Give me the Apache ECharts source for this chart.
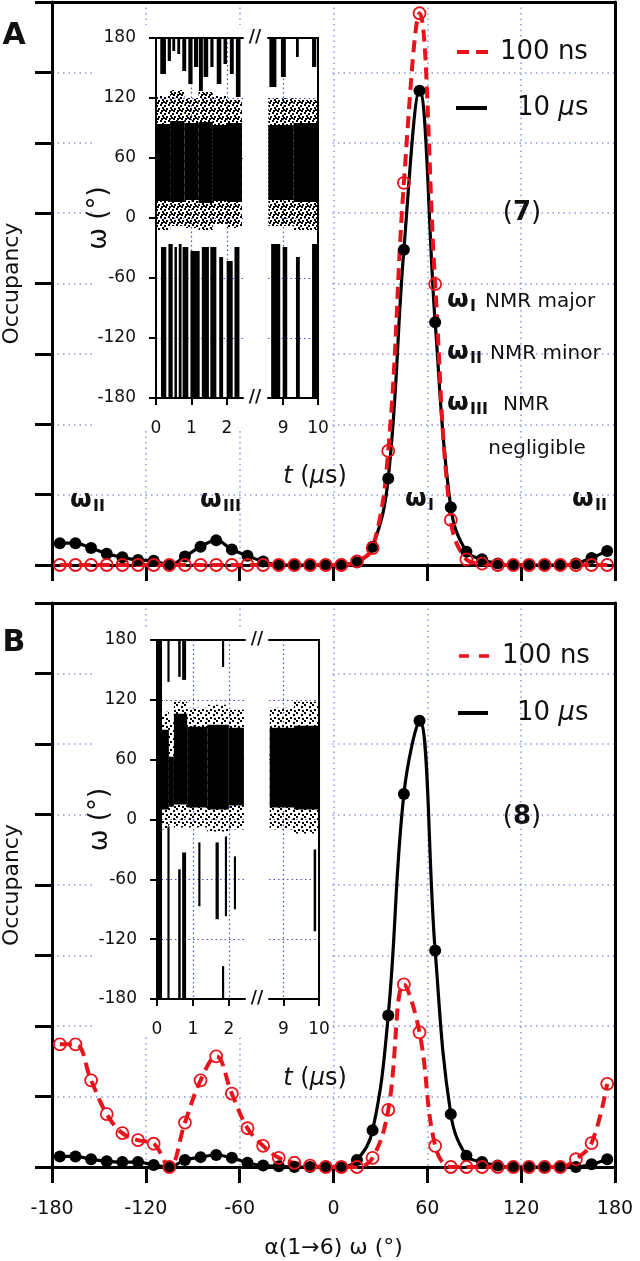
<!DOCTYPE html>
<html>
<head>
<meta charset="utf-8">
<script src="https://cdn.jsdelivr.net/npm/echarts@6.0.0/dist/echarts.min.js"></script>
<style>
html,body{margin:0;padding:0;background:#fff;}
#main{width:640px;height:1261px;}
</style>
</head>
<body>
<div id="main"></div>
<script>
// ω bins (deg), occupancy
var angles = [-175,-165,-155,-145,-135,-125,-115,-105,-95,-85,-75,-65,-55,-45,-35,-25,-15,-5,
              5,15,25,35,45,55,65,75,85,95,105,115,125,135,145,155,165,175];
var occA_10us  = [0.31,0.31,0.24,0.16,0.11,0.07,0.06,0.0,0.12,0.26,0.35,0.22,0.13,0.05,0.0,0.0,0.0,0.0,
                  0.01,0.04,0.26,1.23,4.48,6.74,3.45,0.82,0.19,0.08,0.02,0.0,0.0,0.0,0.0,0.02,0.10,0.20];
var occA_100ns = [0,0,0,0,0,0,0,0,0,0,0,0,0,0,0,0,0,0,
                  0.0,0.05,0.24,1.62,5.43,7.84,3.99,0.64,0.08,0.02,0,0,0,0,0,0,0,0];
var occB_10us  = [0.15,0.15,0.11,0.08,0.07,0.07,0.03,0.0,0.10,0.14,0.17,0.13,0.06,0.02,0.01,0.0,0.0,0.0,
                  0.0,0.10,0.52,2.15,5.29,6.33,3.07,0.75,0.16,0.07,0.02,0.0,0.0,0.0,0.0,0.0,0.04,0.11];
var occB_100ns = [1.74,1.74,1.23,0.75,0.48,0.38,0.33,0.0,0.63,1.23,1.57,1.04,0.55,0.30,0.13,0.06,0.02,0.0,
                  0.0,0.0,0.13,0.81,2.59,1.91,0.30,0.0,0.0,0.0,0,0,0,0,0,0.11,0.34,1.18];

// inset time series (t in µs, ω in deg)
// band: [t0, t1, coreLow, coreHigh, scatterLow, scatterHigh]
var bandA_left  = [[0.00,0.40,17,94,-12,122],[0.40,0.80,16,97,-8,128],[0.80,1.20,18,95,-10,120],
                   [1.20,1.60,15,96,-12,126],[1.60,2.00,17,93,-6,122],[2.00,2.42,16,95,-10,118]];
var bandA_right = [[8.58,9.30,18,93,-8,120],[9.30,10.0,16,95,-12,118]];
var bandB_left  = [[0.00,0.33,10,90,-10,108],[0.33,0.47,13,63,-5,100],[0.47,0.84,15,106,-8,118],
                   [0.84,1.40,12,93,-8,112],[1.40,2.00,10,95,-12,115],[2.00,2.42,14,92,-10,110]];
var bandB_right = [[8.62,9.30,12,92,-10,112],[9.30,10.0,10,94,-14,118]];
// jumps: [t0, t1, ωLow, ωHigh]
var jumpsA_left = [
  [0.12,0.28,144,180],[0.33,0.42,157,180],[0.46,0.54,167,180],[0.60,0.68,164,180],[0.74,0.85,147,180],
  [0.91,1.03,134,180],[1.07,1.19,151,180],[1.21,1.32,127,180],[1.34,1.47,141,180],[1.53,1.62,151,180],
  [1.71,1.84,134,180],[1.90,2.00,154,180],[2.08,2.19,144,180],[2.25,2.38,121,180],
  [0.14,0.29,-180,-29],[0.35,0.47,-180,-26],[0.52,0.59,-180,-29],[0.64,0.72,-180,-26],[0.75,0.91,-180,-29],
  [0.97,1.23,-180,-33],[1.29,1.49,-180,-29],[1.53,1.70,-180,-29],[1.78,1.89,-180,-39],[1.99,2.16,-180,-43],
  [2.21,2.35,-180,-29]
];
var jumpsA_right = [
  [8.61,8.81,131,180],[8.94,9.08,141,180],[9.37,9.45,161,180],[9.83,9.95,151,180],
  [8.66,8.92,-180,-26],[8.99,9.12,-180,-29],[9.37,9.48,-180,-39],[9.83,9.97,-180,-26]
];
var jumpsB_left = [
  [0.00,0.14,-180,180],[0.29,0.35,138,180],[0.29,0.35,-180,-7],[0.59,0.66,143,180],[0.59,0.66,-180,-50],
  [0.70,0.81,140,180],[0.70,0.81,-180,-33],[1.15,1.21,-87,-23],[1.63,1.72,-100,-23],[1.81,1.87,153,180],
  [1.81,1.87,-180,-147],[1.89,1.95,-97,-17],[2.14,2.20,-90,-37]
];
var jumpsB_right = [[9.85,9.92,-112,-30]];
var tTicksLeft = [0, 1, 2];
var tTicksRight = [9, 10];

var FONT = 'DejaVu Sans';
var RED = '#e8141b';
var GRIDC = '#8a98e6';
var INSETGRID = '#4352d2';

function pairs(vals) {
  return angles.map(function (a, i) { return [a, vals[i]]; });
}

// speckle texture for the sparse scatter around the dense band
function speckle(dots) {
  var c = document.createElement('canvas');
  c.width = 8; c.height = 8;
  var g = c.getContext('2d');
  g.fillStyle = '#000';
  dots.forEach(function (d) { g.fillRect(d[0], d[1], 2, 2); });
  return {image: c, repeat: 'repeat'};
}
var denseDots = speckle([[0,0],[4,1],[2,3],[6,4],[1,6],[5,6],[3,5]]);
var sparseDots = speckle([[0,0],[5,2],[2,5],[6,6]]);

function boxSeries(data, xi, yi, lo, hi, fill) {
  return {
    type: 'custom', xAxisIndex: xi, yAxisIndex: yi, z: 4, silent: true, data: data,
    renderItem: function (params, api) {
      var p1 = api.coord([api.value(0), api.value(hi)]);
      var p2 = api.coord([api.value(1), api.value(lo)]);
      return {type: 'rect', shape: {x: p1[0], y: p1[1], width: Math.max(p2[0] - p1[0], 1.5), height: p2[1] - p1[1]},
              style: {fill: fill}};
    }
  };
}

function mainX(grid, labels) {
  var ax = {
    gridIndex: grid, type: 'value', min: -180, max: 180, interval: 60, position: 'bottom',
    axisLine: {show: true, onZero: false, lineStyle: {color: '#000', width: 3}},
    axisTick: {show: true, length: 16, lineStyle: {color: '#000', width: 3}},
    axisLabel: {show: labels, fontSize: 19, fontFamily: FONT, color: '#111', margin: 33},
    splitLine: {show: true, lineStyle: {color: GRIDC, type: [1.5, 4], width: 1.5}}
  };
  if (labels) {
    ax.name = 'α(1→6) ω (°)';
    ax.nameLocation = 'middle';
    ax.nameGap = 70;
    ax.nameMoveOverlap = false;
    ax.nameTextStyle = {fontSize: 22, fontFamily: FONT, color: '#111'};
  }
  return ax;
}
function frameX(grid, pos, w, z) {
  return {gridIndex: grid, type: 'value', position: pos, min: 0, max: 1, z: z || 0,
    axisLine: {show: true, onZero: false, lineStyle: {color: '#000', width: w}},
    axisTick: {show: false}, axisLabel: {show: false}, splitLine: {show: false}};
}
function mainY(grid) {
  return {gridIndex: grid, type: 'value', min: 0, max: 8, interval: 1, position: 'left',
    axisLine: {show: true, onZero: false, lineStyle: {color: '#000', width: 3}},
    axisTick: {show: true, length: 17, lineStyle: {color: '#000', width: 3}},
    axisLabel: {show: false},
    splitLine: {show: true, lineStyle: {color: GRIDC, type: [1.5, 4], width: 1.5}},
    name: 'Occupancy', nameLocation: 'middle', nameGap: 29, nameMoveOverlap: false,
    nameTextStyle: {fontSize: 22, fontFamily: FONT, color: '#111'}};
}
function frameY(grid, pos, w, z, split) {
  return {gridIndex: grid, type: 'value', position: pos, min: -180, max: 180, interval: 60, z: z || 0,
    axisLine: {show: true, onZero: false, lineStyle: {color: '#000', width: w}},
    axisTick: {show: false}, axisLabel: {show: false},
    splitLine: {show: !!split, lineStyle: {color: INSETGRID, type: [1.5, 3], width: 1.2}}};
}
function insetX(grid, min, max, ticks) {
  return {gridIndex: grid, type: 'value', min: min, max: max, position: 'bottom', z: 3,
    axisLine: {show: true, onZero: false, lineStyle: {color: '#000', width: 2}},
    axisTick: {show: true, length: 7, customValues: ticks, lineStyle: {color: '#000', width: 2}},
    axisLabel: {show: true, customValues: ticks, fontSize: 17, fontFamily: FONT, color: '#111', margin: 22},
    splitLine: {show: true, lineStyle: {color: INSETGRID, type: [1.5, 3], width: 1.2}}};
}
function insetY(grid) {
  return {gridIndex: grid, type: 'value', min: -180, max: 180, interval: 60, position: 'left', z: 3,
    axisLine: {show: true, onZero: false, lineStyle: {color: '#000', width: 2}},
    axisTick: {show: true, length: 7, lineStyle: {color: '#000', width: 2}},
    axisLabel: {show: true, fontSize: 17, fontFamily: FONT, color: '#111', margin: 20},
    splitLine: {show: true, lineStyle: {color: INSETGRID, type: [1.5, 3], width: 1.2}},
    name: 'ω (°)', nameLocation: 'middle', nameGap: 44, nameMoveOverlap: false,
    nameTextStyle: {fontSize: 26, fontFamily: FONT, color: '#111'}};
}

function blackSeries(vals, xi, yi) {
  return {type: 'line', xAxisIndex: xi, yAxisIndex: yi, data: pairs(vals), smooth: 0.4,
    symbol: 'circle', symbolSize: 12, showSymbol: true, silent: true,
    itemStyle: {color: '#000'}, lineStyle: {color: '#000', width: 3.2}};
}
function redSeries(vals, xi, yi) {
  return {type: 'line', xAxisIndex: xi, yAxisIndex: yi, data: pairs(vals), smooth: 0.4,
    symbol: 'circle', symbolSize: 12, showSymbol: true, silent: true,
    itemStyle: {color: 'rgba(0,0,0,0)', borderColor: RED, borderWidth: 1.8},
    lineStyle: {color: RED, width: 4, type: [12, 7]}};
}

function txt(x, y, text, size, opts) {
  opts = opts || {};
  return {type: 'text', x: x, y: y, z: 6, silent: true,
    style: {text: text, fontSize: size, fontFamily: FONT, fontWeight: opts.bold ? 'bold' : 'normal',
      fill: '#111', align: opts.align || 'left', verticalAlign: 'middle', rich: opts.rich}};
}
function omega(x, y, sub, note, noteX) {
  var els = [txt(x, y - 2, 'ω', 25, {bold: true}), txt(x + 23, y + 5, sub, 16, {bold: true})];
  if (note) els.push(txt(noteX, y, note, 20));
  return els;
}
var italic = {i: {fontStyle: 'italic', fontSize: 26, fontFamily: FONT}};
var italic24 = {i: {fontStyle: 'italic', fontSize: 24, fontFamily: FONT}};
var bold26 = {b: {fontWeight: 'bold', fontSize: 26, fontFamily: FONT}};

var graphics = [
  {type: 'rect', z: 1, silent: true, shape: {x: 95, y: 25, width: 236, height: 406}, style: {fill: '#fff'}},
  {type: 'rect', z: 1, silent: true, shape: {x: 95, y: 627, width: 236, height: 407}, style: {fill: '#fff'}},
  txt(14, 36, 'A', 30, {bold: true, align: 'center'}),
  txt(14, 643, 'B', 30, {bold: true, align: 'center'}),
  // legends
  {type: 'line', z: 6, shape: {x1: 457, y1: 52, x2: 490, y2: 52}, style: {stroke: RED, lineWidth: 4, lineDash: [12, 7]}},
  txt(500, 52, '100 ns', 26),
  {type: 'line', z: 6, shape: {x1: 456, y1: 108, x2: 487, y2: 108}, style: {stroke: '#000', lineWidth: 4}},
  txt(517, 108, '10 {i|µ}s', 26, {rich: italic}),
  {type: 'line', z: 6, shape: {x1: 459, y1: 656, x2: 491, y2: 656}, style: {stroke: RED, lineWidth: 3.5, lineDash: [10, 10]}},
  txt(502, 656, '100 ns', 26),
  {type: 'line', z: 6, shape: {x1: 458, y1: 713, x2: 488, y2: 713}, style: {stroke: '#000', lineWidth: 4}},
  txt(517, 713, '10 {i|µ}s', 26, {rich: italic}),
  txt(522, 213, '({b|7})', 26, {align: 'center', rich: bold26}),
  txt(522, 817, '({b|8})', 26, {align: 'center', rich: bold26}),
  txt(537, 449, 'negligible', 20, {align: 'center'}),
  // inset decorations
  txt(315, 477, '{i|t} ({i|µ}s)', 24, {align: 'center', rich: italic24}),
  txt(315, 1079, '{i|t} ({i|µ}s)', 24, {align: 'center', rich: italic24}),
  txt(255, 38, '//', 17, {bold: true, align: 'center'}),
  txt(255, 398, '//', 17, {bold: true, align: 'center'}),
  txt(257, 640, '//', 17, {bold: true, align: 'center'}),
  txt(257, 999, '//', 17, {bold: true, align: 'center'})
];
graphics = graphics
  .concat(omega(70, 502, 'II'))
  .concat(omega(200, 502, 'III'))
  .concat(omega(405, 501, 'I'))
  .concat(omega(572, 501, 'II'))
  .concat(omega(447, 302, 'I', 'NMR major', 485))
  .concat(omega(447, 354, 'II', 'NMR minor', 490))
  .concat(omega(447, 405, 'III', 'NMR', 503));

var chart = echarts.init(document.getElementById('main'));
var option = {
  animation: false,
  backgroundColor: '#fff',
  textStyle: {fontFamily: FONT},
  grid: [
    {left: 52, top: 2, width: 563, height: 563, outerBoundsMode: 'none'},
    {left: 52, top: 603, width: 563, height: 564, outerBoundsMode: 'none'},
    {left: 156, top: 38, width: 87, height: 360, outerBoundsMode: 'none'},
    {left: 268, top: 38, width: 50, height: 360, outerBoundsMode: 'none'},
    {left: 157, top: 640, width: 88, height: 359, outerBoundsMode: 'none'},
    {left: 269, top: 640, width: 50, height: 359, outerBoundsMode: 'none'}
  ],
  xAxis: [
    mainX(0, false), frameX(0, 'top', 3),
    mainX(1, true), frameX(1, 'top', 3),
    insetX(2, 0, 2.45, tTicksLeft), frameX(2, 'top', 2, 3),
    insetX(3, 8.57, 10, tTicksRight), frameX(3, 'top', 2, 3),
    insetX(4, 0, 2.45, tTicksLeft), frameX(4, 'top', 2, 3),
    insetX(5, 8.6, 10, tTicksRight), frameX(5, 'top', 2, 3),
    // baselines drawn over the curves
    frameX(0, 'bottom', 3, 3), frameX(1, 'bottom', 3, 3)
  ],
  yAxis: [
    mainY(0), {gridIndex: 0, type: 'value', position: 'right', min: 0, max: 8,
      axisLine: {show: true, onZero: false, lineStyle: {color: '#000', width: 3}},
      axisTick: {show: false}, axisLabel: {show: false}, splitLine: {show: false}},
    mainY(1), {gridIndex: 1, type: 'value', position: 'right', min: 0, max: 8,
      axisLine: {show: true, onZero: false, lineStyle: {color: '#000', width: 3}},
      axisTick: {show: false}, axisLabel: {show: false}, splitLine: {show: false}},
    insetY(2), frameY(3, 'right', 2, 3, true),
    insetY(4), frameY(5, 'right', 2, 3, true)
  ],
  graphic: graphics,
  series: [
    blackSeries(occA_10us, 0, 0), redSeries(occA_100ns, 0, 0),
    blackSeries(occB_10us, 2, 2), redSeries(occB_100ns, 2, 2),
    boxSeries(bandA_left, 4, 4, 4, 5, denseDots), boxSeries(bandA_left, 4, 4, 2, 3, '#000'),
    boxSeries(jumpsA_left, 4, 4, 2, 3, '#000'),
    boxSeries(bandA_right, 6, 5, 4, 5, denseDots), boxSeries(bandA_right, 6, 5, 2, 3, '#000'),
    boxSeries(jumpsA_right, 6, 5, 2, 3, '#000'),
    boxSeries(bandB_left, 8, 6, 4, 5, sparseDots), boxSeries(bandB_left, 8, 6, 2, 3, '#000'),
    boxSeries(jumpsB_left, 8, 6, 2, 3, '#000'),
    boxSeries(bandB_right, 10, 7, 4, 5, sparseDots), boxSeries(bandB_right, 10, 7, 2, 3, '#000'),
    boxSeries(jumpsB_right, 10, 7, 2, 3, '#000')
  ]
};
chart.setOption(option);
window.onresize = chart.resize;
</script>
</body>
</html>
